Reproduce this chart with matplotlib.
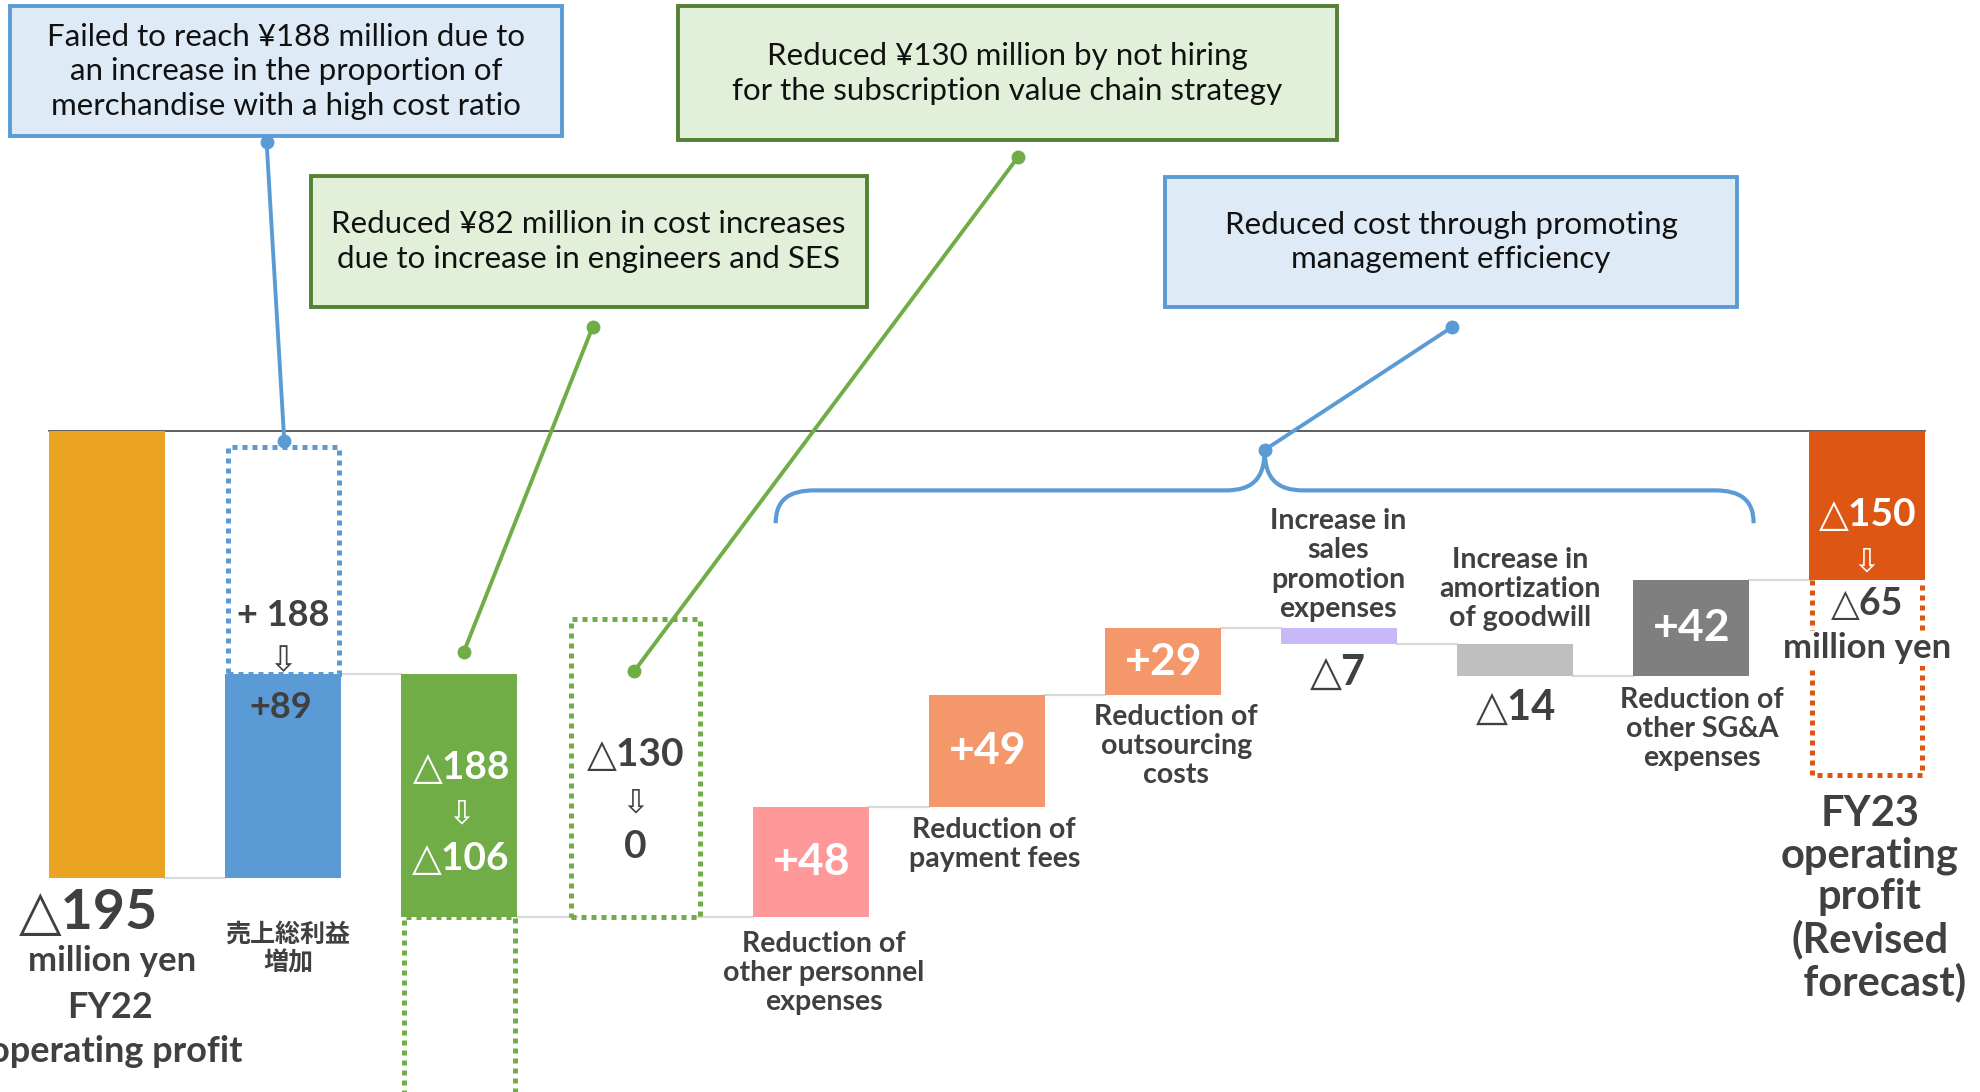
import matplotlib
matplotlib.use("Agg")
import matplotlib.pyplot as plt
from matplotlib.path import Path
from matplotlib.patches import PathPatch, Rectangle

# ---------------- data ----------------
start_value = -195                       # FY22 operating profit (million yen)
step_labels = ["売上総利益\n増加", "", "",
               "Reduction of\nother personnel\nexpenses",
               "Reduction of\npayment fees",
               "Reduction of\noutsourcing\ncosts",
               "Increase in\nsales\npromotion\nexpenses",
               "Increase in\namortization\nof goodwill",
               "Reduction of\nother SG&A\nexpenses"]
step_values = [89, -106, 0, 48, 49, 29, -7, -14, 42]
step_plans = [188, -188, -130, None, None, None, None, None, None]
step_colors = ["#5B9BD5", "#70AD47", "#70AD47", "#FF9999", "#F4976A", "#F4976A",
               "#C9B8F8", "#BFBFBF", "#7F7F7F"]
end_value = -65
end_plan = -150
start_color = "#EBA422"
end_color = "#DD5613"

TXT = "#404040"
FAM = ["Lato", "DejaVu Sans", "Noto Sans CJK JP"]
CJK = ["Noto Sans CJK JP", "DejaVu Sans"]

W, H = 1981, 1092
fig = plt.figure(figsize=(W / 100, H / 100), dpi=100)

# pixel (of a 1568x864 layout) -> data helpers
def dx(px):
    return (px - 85) / 139.3

def dy(py):
    return (341 - py) / 1.815

ax = fig.add_axes([0, 0, 1, 1])
ax.set_xlim(dx(0), dx(1568))
ax.set_ylim(dy(864), dy(0))
ax.axis("off")

ann = fig.add_axes([0, 0, 1, 1], facecolor="none")
ann.set_xlim(0, 1568)
ann.set_ylim(864, 0)
ann.axis("off")

BW = 0.66
DOT = dict(linestyle=(0, (1, 1)), linewidth=3.6)
n = len(step_values)
levels = [start_value]
for v in step_values:
    levels.append(levels[-1] + v)
end_x = n + 1

# zero line
ax.plot([0 - BW / 2, end_x + BW / 2], [0, 0], color="#333333", lw=1.1, zorder=1)

# start bar
ax.bar(0, start_value, width=BW, color=start_color, zorder=3)

# steps
for i, (v, plan, c) in enumerate(zip(step_values, step_plans, step_colors)):
    x = i + 1
    prev, cur = levels[i], levels[i + 1]
    if plan is not None:
        if v == 0:
            # nothing realised: outline of the planned amount above the level
            lo, hi = cur, cur - plan
            w = 0.73
        else:
            lo, hi = sorted([cur, prev + plan])
            w = BW * 0.95
        ax.bar(x, hi - lo, bottom=lo, width=w, fill=False, edgecolor=c,
               zorder=2, **DOT)
    if v != 0:
        ax.bar(x, abs(v), bottom=min(prev, cur), width=BW, color=c, zorder=3)

# end bar: solid result + open dotted outline of the previous forecast
ew = BW * 0.95
ax.plot([end_x - ew / 2, end_x - ew / 2, end_x + ew / 2, end_x + ew / 2],
        [end_value, end_plan, end_plan, end_value], color=end_color, zorder=2,
        solid_capstyle="butt", **DOT)
ax.bar(end_x, end_value, width=BW, color=end_color, zorder=3)

# connectors
for i in range(len(levels)):
    ax.plot([i + BW / 2, i + 1 - BW / 2], [levels[i], levels[i]],
            color="#D9D9D9", lw=1.6, zorder=1)

# ---------- value labels in bars ----------
def mid(i):
    return (levels[i] + levels[i + 1]) / 2

for i in [3, 4, 5, 8]:
    v = step_values[i]
    ax.text(i + 1, mid(i), f"+{v}", ha="center", va="center", color="white",
            fontsize=32, fontweight="bold", family=FAM, zorder=5)

def T(px, py, s, size, color=TXT, weight="bold", family=FAM, ha="center", ls=1.2, **kw):
    ann.text(px, py, s, fontsize=size, color=color, fontweight=weight, family=family,
             ha=ha, va="center", linespacing=ls, zorder=6, **kw)

# start bar labels
T(70, 722, "△195", 40)
T(89, 760, "million yen", 25)
T(87, 797, "FY22", 26)
T(92, 832, "operating profit", 26)

# bar 2
T(224, 487, "+ 188", 26)
T(224, 523, "⇩", 25, weight="normal")
T(222, 560, "+89", 26)
T(228, 751, step_labels[0], 18, family=CJK, ls=1.25)

# bar 3
T(365, 607, "△188", 28, color="white")
T(365, 644, "⇩", 24, color="white", weight="normal")
T(365, 679, "△106", 28, color="white")

# bar 4
T(503, 597, "△130", 28)
T(503, 636, "⇩", 24, weight="normal")
T(503, 670, "0", 28)

# category labels
T(652, 770, step_labels[3], 20.5, ls=1.15)
T(787, 668, step_labels[4], 20.5, ls=1.15)
T(931, 590, step_labels[5], 20.5, ls=1.15)
T(1059, 447, step_labels[6], 20.5, ls=1.15)
T(1203, 466, step_labels[7], 20.5, ls=1.15)
T(1347, 577, step_labels[8], 20.5, ls=1.15)
T(1059, 532, "△7", 30)
T(1200, 560, "△14", 30)

# end bar
T(1478, 407, "△150", 28, color="white")
T(1477, 445, "⇩", 24, color="white", weight="normal")
T(1478, 478, "△65", 27)
T(1478, 513, "million yen", 25,
  bbox=dict(facecolor="white", edgecolor="none", pad=1))
T(1480, 711, "FY23\noperating\nprofit\n(Revised\n   forecast)", 30, ls=1.1)

# ---------- callouts ----------
BLUE_F, BLUE_E = "#DEEBF7", "#5B9BD5"
GREEN_F, GREEN_E = "#E2F0D9", "#548235"
boxes = [
    (8, 5, 445, 108, BLUE_F, BLUE_E,
     "Failed to reach ¥188 million due to\nan increase in the proportion of\nmerchandise with a high cost ratio"),
    (246, 139, 686, 243, GREEN_F, GREEN_E,
     "Reduced ¥82 million in cost increases\ndue to increase in engineers and SES"),
    (537, 5, 1058, 111, GREEN_F, GREEN_E,
     "Reduced ¥130 million by not hiring\nfor the subscription value chain strategy"),
    (922, 140, 1375, 243, BLUE_F, BLUE_E,
     "Reduced cost through promoting\nmanagement efficiency"),
]
for x0, y0, x1, y1, fc, ec, s in boxes:
    ann.add_patch(Rectangle((x0, y0), x1 - x0, y1 - y0, facecolor=fc, edgecolor=ec,
                            lw=2.8, zorder=4))
    ann.text((x0 + x1) / 2, (y0 + y1) / 2, s, ha="center", va="center", fontsize=22.5,
             color="#111111", family=["Lato", "DejaVu Sans"], linespacing=1.3, zorder=5)

leaders = [
    ((211, 112), (225, 349), "#5B9BD5"),
    ((469, 259), (367, 516), "#70AD47"),
    ((806, 124), (502, 531), "#70AD47"),
    ((1149, 259), (1001, 356), "#5B9BD5"),
]
for (ax0, ay0), (ax1, ay1), c in leaders:
    ann.plot([ax0, ax1], [ay0, ay1], color=c, lw=2.8, zorder=5, solid_capstyle="round")
    ann.plot([ax0, ax1], [ay0, ay1], "o", color=c, ms=9, zorder=5)

# brace
verts = [(614, 414), (614, 395), (625, 388), (645, 388),
         (970, 388),
         (990, 388), (1001, 380), (1001, 356),
         (1001, 380), (1012, 388), (1032, 388),
         (1357, 388),
         (1377, 388), (1388, 395), (1388, 414)]
codes = [Path.MOVETO, Path.CURVE4, Path.CURVE4, Path.CURVE4,
         Path.LINETO,
         Path.CURVE4, Path.CURVE4, Path.CURVE4,
         Path.CURVE4, Path.CURVE4, Path.CURVE4,
         Path.LINETO,
         Path.CURVE4, Path.CURVE4, Path.CURVE4]
ann.add_patch(PathPatch(Path(verts, codes), fill=False, edgecolor="#5B9BD5", lw=3,
                        zorder=5))

fig.savefig("out.png", dpi=100)
